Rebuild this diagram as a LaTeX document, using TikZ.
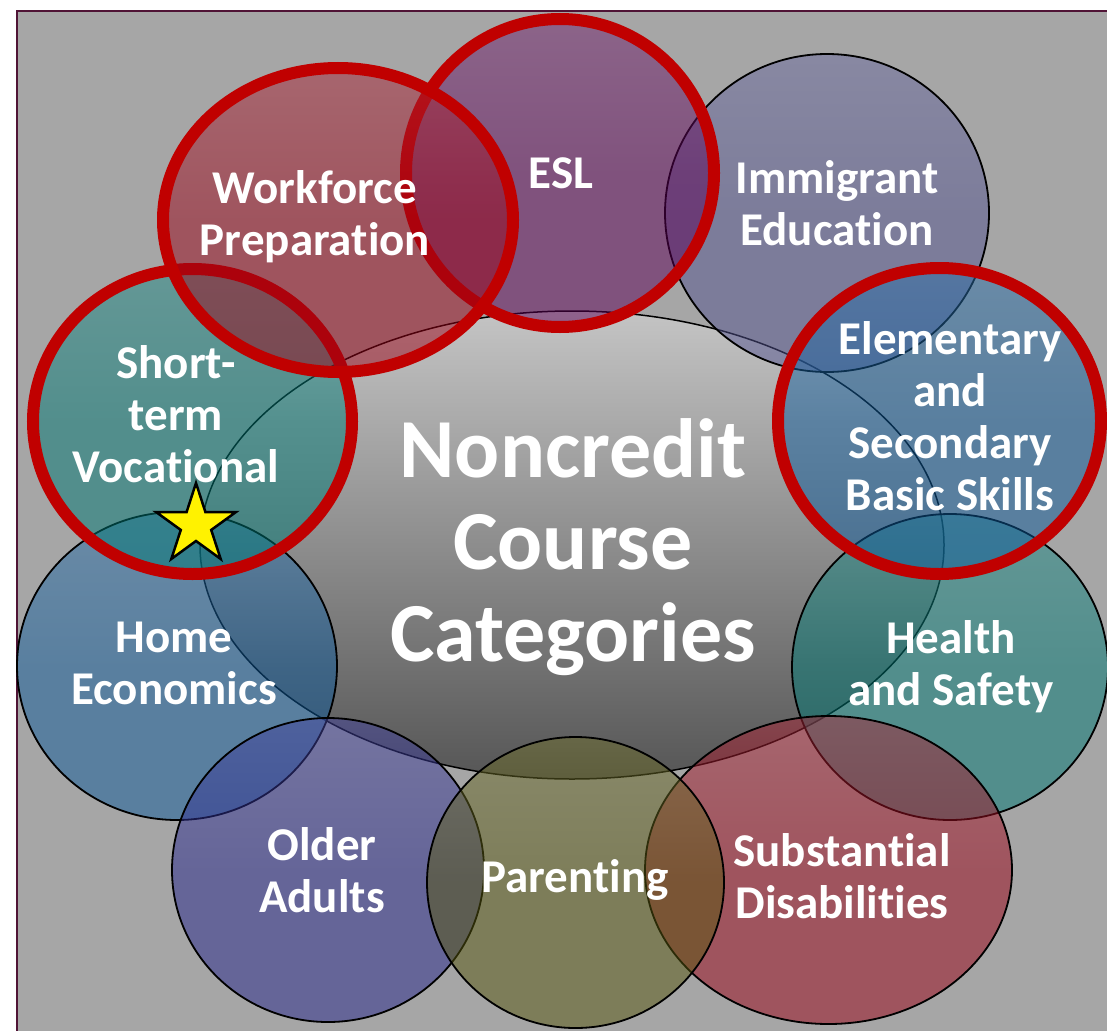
\documentclass[tikz,border=0pt]{standalone}
\usepackage{fontspec}
\setmainfont{Carlito}[Ligatures=NoCommon]
\definecolor{bgray}{RGB}{166,166,166}
\definecolor{frameC}{RGB}{80,20,54}
\definecolor{ringred}{RGB}{192,0,0}
\definecolor{cRed}{RGB}{154,4,24}
\definecolor{cPurple}{RGB}{92,0,86}
\definecolor{cSlate}{RGB}{84,84,144}
\definecolor{cBlue}{RGB}{14,90,154}
\definecolor{cTeal}{RGB}{0,120,116}
\definecolor{cOlive}{RGB}{86,86,14}
\definecolor{cIndigo}{RGB}{38,38,140}
\definecolor{ellTop}{RGB}{196,196,196}
\definecolor{ellBot}{RGB}{86,86,86}
\begin{document}
\begin{tikzpicture}[x=1pt,y=-1pt,
  bubble/.style={draw=black, line width=1.8pt, fill opacity=0.5,
    top color=#1!86!white, bottom color=#1, middle color=#1},
  ring/.style={draw=ringred, line width=12pt},
  lbl/.style={text=white, font=\fontsize{47}{52}\selectfont\bfseries,
    align=center, inner sep=0pt, anchor=base},
  biglbl/.style={text=white, font=\fontsize{84}{92}\selectfont\bfseries,
    align=center, inner sep=0pt, anchor=base},
  framebox/.style={draw=frameC, line width=2.5pt, fill=bgray},
  starshape/.style={fill=yellow, draw=black, line width=2.5pt, line join=miter}
]
\useasboundingbox (0,0) rectangle (1107,1030);
\clip (0,0) rectangle (1107,1030);
\draw[framebox] (17,11) rectangle (1130,1050);

% centre ellipse
\coordinate (cc) at (572,545);
\path[draw=black, line width=1.5pt, top color=ellTop, bottom color=ellBot]
  (cc) ellipse [x radius=372, y radius=234];

% category circles (bottom to top)
\coordinate (home) at (177,666);
\coordinate (older) at (328,870);
\coordinate (short) at (192.5,421.5);
\coordinate (immig) at (827,213);
\coordinate (esl) at (560,173);
\coordinate (work) at (338,220);
\coordinate (health) at (950,667);
\coordinate (elem) at (939.5,421);
\coordinate (subdis) at (828.5,870);
\coordinate (parent) at (575.5,882.5);

\path[bubble=cBlue] (home) ellipse [x radius=160, y radius=154];
\path[bubble=cIndigo] (older) ellipse [x radius=156, y radius=152];
\path[bubble=cTeal, ring] (short) ellipse [x radius=159.5, y radius=152.5];
\path[bubble=cSlate] (immig) ellipse [x radius=162, y radius=159];
\path[bubble=cPurple, ring] (esl) ellipse [x radius=154, y radius=154];
\path[bubble=cRed, ring] (work) ellipse [x radius=175, y radius=152];
\path[bubble=cTeal] (health) ellipse [x radius=158, y radius=153];
\path[bubble=cBlue, ring] (elem) ellipse [x radius=161.5, y radius=153];
\path[bubble=cRed] (subdis) ellipse [x radius=183.5, y radius=154];
\path[bubble=cOlive] (parent) ellipse [x radius=148.5, y radius=145.5];

% star
\draw[starshape] (196,525) +(270:42) -- +(306:16) -- +(342:42) -- +(18:16)
  -- +(54:42) -- +(90:16) -- +(126:42) -- +(162:16) -- +(198:42)
  -- +(234:16) -- cycle;

% labels (anchor = baseline of last line)
\node[biglbl] (tcenter) at (573,661) {Noncredit\\Course\\Categories};
\node[lbl] (twork) at (315,255) {Workforce\\Preparation};
\node[lbl] (tesl) at (561,188) {ESL};
\node[lbl] (timmig) at (837,245) {Immigrant\\Education};
\node[lbl] (telem) at (950,510) {Elementary\\and\\Secondary\\Basic Skills};
\node[lbl] (tshort) at (176,482) {Short-\\term\\Vocational};
\node[lbl] (thome) at (174,704) {Home\\Economics};
\node[lbl] (thealth) at (951,705) {Health\\and Safety};
\node[lbl] (tsubdis) at (842,918) {Substantial\\Disabilities};
\node[lbl] (tparent) at (575,892) {Parenting};
\node[lbl] (tolder) at (322,912) {Older\\Adults};
\end{tikzpicture}
\end{document}
